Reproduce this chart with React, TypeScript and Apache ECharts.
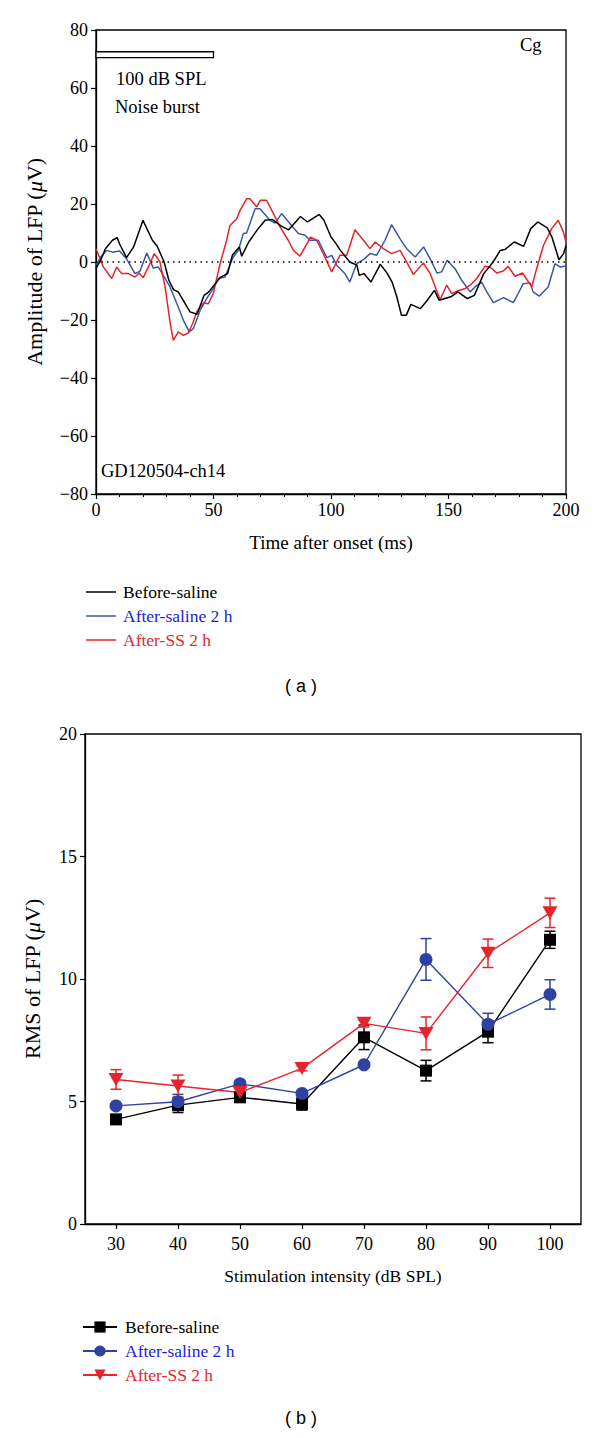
import React, { useEffect, useRef } from "react";
import * as echarts from "echarts";

// ---------- Panel (a): LFP traces ----------
const beforeT = [0,2,4,7,9,10,13,16,20,22,24,26,29,31,33,35,40,43,46,48,53,56,58,61,62,65,69,72,75,79,82,87,90,95,97,100,102,104,108,111,112,114,117,121,124,126,128,130,132,134,138,141,144,146,151,154,158,161,165,169,172,174,178,182,185,188,192,194,197,199,200];
const beforeV = [-2,0.6,4.6,7.5,8.4,6.3,1.5,5.2,14.4,10.9,7.5,5.5,0,-6.3,-9.5,-10.3,-17.2,-18,-11.5,-10.3,-5.2,-4,2.3,5.2,2,6.9,11.5,14.4,14.7,12.3,11.1,15.7,13.8,16.4,14.4,8.6,6.5,4,0,-1.1,-4.6,-4,-6.9,-0.8,-4,-6.9,-12,-18.4,-18.4,-14.6,-16.1,-13.2,-9.8,-13.2,-12,-10.3,-12.6,-11.5,-4,0,4,4.3,6.9,5.4,11.5,13.8,11.8,8.6,0.8,2.9,5.7];

const salineT = [0,2,4.5,7,10,13,16.6,18.7,21.6,24.4,26.5,31.5,35,37.2,39.7,41.4,44.3,47.1,49.9,52.1,54.9,58.4,60.6,62.7,64.1,67.7,69.8,74,76.2,79,82.6,86.1,89,91,94.6,98.2,100.3,102.4,105.9,108,110.9,113.8,116.6,119.4,123,125.8,129.4,132.2,135.8,139.4,142.2,145.1,147.1,149.4,152.8,155.6,159.2,161.3,164.1,166.3,169.1,173.4,177.6,181.8,184.7,186,188.6,192.4,195.3,197.4,200];
const salineV = [-1.1,1.7,4,3.4,3.8,1.1,-4,-3.2,3.1,-2.1,-1.7,-8.6,-15.5,-20.1,-24.1,-23,-16.7,-12.6,-9.2,-5.7,-5.2,1.7,4,9.8,10,18.4,18.4,14.4,13.4,16.7,13.2,9.8,9.2,7.5,7.5,1.5,2.3,-1.1,-4,-6.9,-0.6,0.8,2.9,2.3,7.5,12.9,8,4.6,1.7,5.2,1.1,-3.8,-3.4,0.6,-2.3,-6.3,-10.3,-8.6,-6.9,-10.3,-14,-12.3,-14,-7.5,-7.2,-10.3,-11.8,-8.6,-0.6,-1.7,-1.4];

const ssT = [0,3.1,6.7,8.8,10.9,13.8,16.6,18.4,20.1,22.3,24.8,27.2,29.4,31.5,32.9,35,37.2,39.3,41.4,42.8,45.7,47.8,49.9,52.8,55.6,57,59.9,61.3,64.1,65.5,68.4,70,72.6,74.8,78.3,81.8,84,86.8,91.3,93.9,97.4,100.3,103.8,106.7,110.2,113.8,116.6,118.8,122.3,125.8,129.4,132.2,135,139.3,142.2,146.4,149.2,151.4,154.2,157,159.2,162,165.5,167.7,170.5,173.3,175.4,178.3,181.5,185.4,187.5,190.4,193.9,196.7,198.9,200];
const ssV = [4.6,-1.7,-5.7,-1.7,-4,-4,-5.2,-3.8,-5.4,-1.7,2.9,0,-8.6,-20.7,-27,-24.1,-25.3,-24.5,-20.7,-17.2,-14.1,-14.4,-10.9,-0.6,7.5,12.6,14.9,17.8,21.8,21.8,19,21.3,21.3,17.8,12.1,7.5,4,2,8.6,7.5,1.7,-3.4,2.3,2.3,11.1,7.5,4.6,6.9,4.6,2.9,4,0,-4.3,-0.3,-4,-13,-8,-10.9,-9.8,-9.2,-8,-5.7,-1.5,-1.7,-3.8,-3.1,-1.5,-4.9,-3.8,-8.6,-2.3,5.7,11.5,14.4,10.3,6.9];

const stimulusStart = 0;
const stimulusEnd = 50;
const stimulusLow = 70.5;
const stimulusHigh = 72.5;

// ---------- Panel (b): RMS vs intensity ----------
const intensities = [30, 40, 50, 60, 70, 80, 90, 100];
const rmsBefore = [4.27, 4.85, 5.17, 4.9, 7.62, 6.26, 7.85, 11.6];
const errBefore = [0.1, 0.3, 0.15, 0.25, 0.5, 0.42, 0.45, 0.35];
const rmsSaline = [4.82, 4.99, 5.72, 5.33, 6.5, 10.8, 8.15, 9.37];
const errSaline = [0.1, 0.3, 0.1, 0.1, 0.1, 0.85, 0.45, 0.6];
const rmsSS = [5.9, 5.63, 5.37, 6.35, 8.19, 7.78, 11.05, 12.7];
const errSS = [0.4, 0.45, 0.15, 0.1, 0.15, 0.67, 0.58, 0.6];

const seriesNames = ["Before-saline", "After-saline 2 h", "After-SS 2 h"];
const lineColors = ["#000000", "#3b57a8", "#e8232b"];
const markerColors = ["#000000", "#2f42a0", "#e8232b"];
const legendTextColors = ["#000000", "#1c1cd8", "#e3262b"];
const xTicksBottom = [30, 40, 50, 60, 70, 80, 90, 100];

const SERIF = "Liberation Serif";
const FS_TICK = 18;
const FS_XNAME_TOP = 19;
const FS_XNAME_BOTTOM = 17.5;
const FS_YNAME = 22;
const FS_NOTE = 18.5;
const FS_LEG = 17.5;

function pairs(t: number[], v: number[]) {
  return t.map((x, i) => [x, v[i]]);
}

function errorBarSeries(name: string, vals: number[], errs: number[], color: string) {
  return {
    type: "custom",
    name,
    xAxisIndex: 1,
    yAxisIndex: 1,
    z: 1,
    silent: true,
    data: intensities.map((x, i) => [x, vals[i] - errs[i], vals[i] + errs[i]]),
    renderItem: (params: any, api: any) => {
      const x = api.value(0);
      const lo = api.coord([x, api.value(1)]);
      const hi = api.coord([x, api.value(2)]);
      const w = 5.5;
      const style = { stroke: color, lineWidth: 1.5, fill: "none" };
      return {
        type: "group",
        children: [
          { type: "line", shape: { x1: hi[0], y1: hi[1], x2: lo[0], y2: lo[1] }, style },
          { type: "line", shape: { x1: hi[0] - w, y1: hi[1], x2: hi[0] + w, y2: hi[1] }, style },
          { type: "line", shape: { x1: lo[0] - w, y1: lo[1], x2: lo[0] + w, y2: lo[1] }, style },
        ],
      };
    },
  };
}

export default function App() {
  const ref = useRef<HTMLDivElement>(null);

  useEffect(() => {
    if (!ref.current) return;
    const chart = echarts.init(ref.current, undefined, { renderer: "svg" });

    const tickText = { color: "#000", fontFamily: SERIF, fontSize: FS_TICK };
    const axisLine = { show: true, onZero: false, lineStyle: { color: "#000", width: 1.3 } };
    const yNameStyle = {
      color: "#000",
      fontFamily: SERIF,
      fontSize: FS_YNAME,
      rich: { i: { fontFamily: SERIF, fontSize: FS_YNAME, fontStyle: "italic", color: "#000" } },
    };

    const topSeries = [
      { t: beforeT, v: beforeV },
      { t: salineT, v: salineV },
      { t: ssT, v: ssV },
    ].map((s, i) => ({
      type: "line",
      name: "a:" + seriesNames[i],
      xAxisIndex: 0,
      yAxisIndex: 0,
      symbol: "none",
      showSymbol: false,
      z: i === 0 ? 5 : i === 1 ? 3 : 4,
      lineStyle: { color: lineColors[i], width: 1.5 },
      itemStyle: { color: lineColors[i] },
      data: pairs(s.t, s.v),
      ...(i === 0
        ? {
            markLine: {
              silent: true,
              symbol: "none",
              label: { show: false },
              lineStyle: { color: "#000", type: [1.5, 4], width: 1.6 },
              data: [{ yAxis: 0 }],
            },
            markArea: {
              silent: true,
              itemStyle: { color: "#fff", borderColor: "#000", borderWidth: 1.3 },
              data: [[{ coord: [stimulusStart, stimulusLow] }, { coord: [stimulusEnd, stimulusHigh] }]],
            },
          }
        : {}),
    }));

    const symbols = ["rect", "circle", "triangle"];
    const symbolSizes: any[] = [12, 13, [15, 13]];
    const bottomSeries = [rmsBefore, rmsSaline, rmsSS].map((vals, i) => ({
      type: "line",
      name: seriesNames[i],
      xAxisIndex: 1,
      yAxisIndex: 1,
      symbol: symbols[i],
      symbolSize: symbolSizes[i],
      symbolRotate: i === 2 ? 180 : 0,
      z: 3,
      lineStyle: { color: markerColors[i], width: 1.4 },
      itemStyle: { color: markerColors[i] },
      data: intensities.map((x, k) => [x, vals[k]]),
    }));

    const errSeries = [
      errorBarSeries("err-before", rmsBefore, errBefore, markerColors[0]),
      errorBarSeries("err-saline", rmsSaline, errSaline, markerColors[1]),
      errorBarSeries("err-ss", rmsSS, errSS, markerColors[2]),
    ];

    const option: any = {
      animation: false,
      backgroundColor: "#fff",
      grid: [
        { left: 96, top: 30, width: 470, height: 464, show: true, borderColor: "#000", borderWidth: 1.3, backgroundColor: "transparent" },
        { left: 85, top: 734, width: 496, height: 490, show: true, borderColor: "#000", borderWidth: 1.3, backgroundColor: "transparent" },
      ],
      xAxis: [
        {
          type: "value",
          gridIndex: 0,
          min: 0,
          max: 200,
          interval: 50,
          axisLine,
          axisTick: { show: true, length: 5, lineStyle: { color: "#000", width: 1.2 } },
          minorTick: { show: true, splitNumber: 5, length: 3, lineStyle: { color: "#000", width: 1 } },
          splitLine: { show: false },
          axisLabel: { ...tickText, margin: 7 },
          name: "Time after onset (ms)",
          nameLocation: "middle",
          nameGap: 39,
          nameTextStyle: { color: "#000", fontFamily: SERIF, fontSize: FS_XNAME_TOP },
        },
        {
          type: "value",
          gridIndex: 1,
          min: 25,
          max: 105,
          axisLine,
          axisTick: { show: true, length: 5, customValues: xTicksBottom, lineStyle: { color: "#000", width: 1.2 } },
          splitLine: { show: false },
          axisLabel: { ...tickText, margin: 11, customValues: xTicksBottom },
          name: "Stimulation intensity (dB SPL)",
          nameLocation: "middle",
          nameGap: 43,
          nameTextStyle: { color: "#000", fontFamily: SERIF, fontSize: FS_XNAME_BOTTOM },
        },
      ],
      yAxis: [
        {
          type: "value",
          gridIndex: 0,
          min: -80,
          max: 80,
          interval: 20,
          axisLine,
          axisTick: { show: true, length: 5, lineStyle: { color: "#000", width: 1.2 } },
          splitLine: { show: false },
          axisLabel: { ...tickText, margin: 8, formatter: (v: number) => (v < 0 ? "\u2212" + Math.abs(v) : String(v)) },
          name: "Amplitude of LFP ({i|\u03bc}V)",
          nameLocation: "middle",
          nameGap: 51,
          nameTextStyle: yNameStyle,
        },
        {
          type: "value",
          gridIndex: 1,
          min: 0,
          max: 20,
          interval: 5,
          axisLine,
          axisTick: { show: true, length: 5, lineStyle: { color: "#000", width: 1.2 } },
          splitLine: { show: false },
          axisLabel: { ...tickText, margin: 8 },
          name: "RMS of LFP ({i|\u03bc}V)",
          nameLocation: "middle",
          nameGap: 42,
          nameTextStyle: yNameStyle,
        },
      ],
      legend: [
        {
          orient: "vertical",
          left: 81,
          top: 578,
          itemWidth: 30,
          itemHeight: 1.5,
          itemGap: 6,
          icon: "rect",
          selectedMode: false,
          formatter: (name: string) => name.slice(2),
          textStyle: { fontFamily: SERIF, fontSize: FS_LEG, lineHeight: 16, padding: [0, 0, 0, 2] },
          data: seriesNames.map((n, i) => ({ name: "a:" + n, textStyle: { color: legendTextColors[i] } })),
        },
        {
          orient: "vertical",
          left: 77,
          top: 1313,
          itemWidth: 34,
          itemHeight: 14,
          itemGap: 6,
          selectedMode: false,
          textStyle: { fontFamily: SERIF, fontSize: FS_LEG, lineHeight: 16, padding: [0, 0, 0, 3] },
          data: seriesNames.map((n, i) => ({ name: n, textStyle: { color: legendTextColors[i] } })),
        },
      ],
      graphic: [
        { type: "text", left: 116, top: 69, style: { text: "100 dB SPL", fontFamily: SERIF, fontSize: FS_NOTE, fill: "#000" } },
        { type: "text", left: 115, top: 97, style: { text: "Noise burst", fontFamily: SERIF, fontSize: FS_NOTE, fill: "#000" } },
        { type: "text", left: 520, top: 35, style: { text: "Cg", fontFamily: SERIF, fontSize: FS_NOTE, fill: "#000" } },
        { type: "text", left: 101, top: 461, style: { text: "GD120504-ch14", fontFamily: SERIF, fontSize: FS_NOTE, fill: "#000" } },
        { type: "text", left: 285, top: 677, style: { text: "( a )", fontFamily: "Liberation Sans", fontSize: 18, fill: "#000" } },
        { type: "text", left: 285, top: 1409, style: { text: "( b )", fontFamily: "Liberation Sans", fontSize: 18, fill: "#000" } },
      ],
      series: [...topSeries, ...errSeries, ...bottomSeries],
    };

    chart.setOption(option);
    return () => chart.dispose();
  }, []);

  return (
    <div
      ref={ref}
      style={{ position: "absolute", left: 0, top: 0, width: 600, height: 1438, background: "#fff" }}
    />
  );
}
